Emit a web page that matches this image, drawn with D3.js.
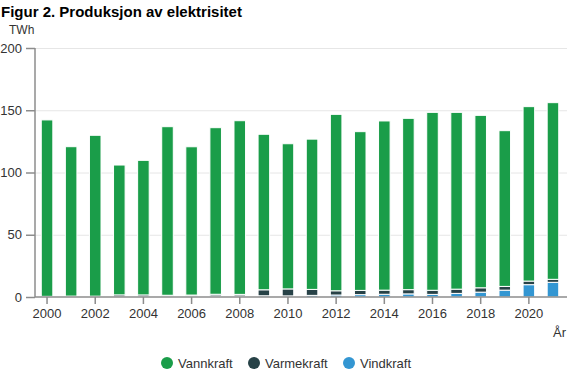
<html>
<head>
<meta charset="utf-8">
<script src="https://d3js.org/d3.v7.min.js"></script>
<style>
  body { margin: 0; background: #fff; }
  text { font-family: "Liberation Sans", Arial, sans-serif; }
</style>
</head>
<body>
<svg width="576" height="384"></svg>
<script>
// data (TWh)
var years = d3.range(2000, 2022);
var vannkraft = [141.7, 120.0, 129.2, 104.3, 108.1, 135.4, 119.1, 133.8, 139.5, 124.9, 116.6,
                 120.7, 141.7, 127.5, 135.9, 137.6, 142.9, 142.0, 138.5, 125.1, 140.1, 141.9];
var varmekraft = [0.5, 0.7, 0.6, 1.5, 1.4, 0.9, 0.9, 1.3, 1.2, 4.8, 5.6,
                  4.8, 3.4, 3.4, 3.3, 3.4, 3.3, 3.4, 3.5, 3.0, 2.9, 2.4];
var vindkraft = [0.03, 0.03, 0.08, 0.2, 0.26, 0.5, 0.67, 0.9, 0.9, 1.0, 0.9,
                 1.3, 1.6, 1.9, 2.2, 2.5, 2.1, 2.9, 3.9, 5.5, 9.9, 11.8];
var yTicks = [0, 50, 100, 150, 200];
var xTicks = [2000, 2002, 2004, 2006, 2008, 2010, 2012, 2014, 2016, 2018, 2020];

var seriesNames = ["Vannkraft", "Varmekraft", "Vindkraft"];
var colors = {Vannkraft: "#1a9d49", Varmekraft: "#274247", Vindkraft: "#3396d2"};

var rows = years.map(function(y, i) {
  return {year: y, Vannkraft: vannkraft[i], Varmekraft: varmekraft[i], Vindkraft: vindkraft[i]};
});

var svg = d3.select("svg");

var x = d3.scaleBand().domain(years).range([35, 565]).paddingInner(0.52).paddingOuter(0.26);
var y = d3.scaleLinear().domain([0, 200]).range([297, 48]);

// title
svg.append("text").attr("x", 1).attr("y", 17)
  .attr("font-size", 15).attr("font-weight", "bold").attr("fill", "#000")
  .text("Figur 2. Produksjon av elektrisitet");
svg.append("text").attr("x", 9).attr("y", 34)
  .attr("font-size", 12).attr("fill", "#333").text("TWh");

// grid
svg.append("g").selectAll("line").data(yTicks.slice(1)).enter().append("line")
  .attr("x1", 35).attr("x2", 567)
  .attr("y1", function(d) { return y(d) + 0.5; }).attr("y2", function(d) { return y(d) + 0.5; })
  .attr("stroke", "#e6e6e6");

// bars: wind at the bottom, then thermal, hydro on top
var stack = d3.stack().keys(["Vindkraft", "Varmekraft", "Vannkraft"]);
svg.append("g").selectAll("g").data(stack(rows)).enter().append("g")
  .attr("fill", function(d) { return colors[d.key]; })
  .selectAll("rect").data(function(d) { return d; }).enter().append("rect")
  .attr("x", function(d) { return x(d.data.year); })
  .attr("width", x.bandwidth())
  .attr("y", function(d) { return y(d[1]); })
  .attr("height", function(d) { return Math.max(0, y(d[0]) - y(d[1])); })
  .attr("stroke", "#fff").attr("stroke-width", 1);

// y axis
var yAxis = d3.axisLeft(y).tickValues(yTicks).tickSize(9).tickPadding(4);
var gy = svg.append("g").attr("transform", "translate(35,0)").call(yAxis);
gy.select(".domain").attr("stroke", "#8c8c8c").attr("stroke-width", 1.5).attr("d", "M0,48V297");
gy.selectAll(".tick line").attr("stroke", "#8c8c8c").attr("stroke-width", 1.5);
gy.selectAll(".tick text").attr("font-size", 13).attr("fill", "#333")
  .attr("font-family", "Liberation Sans, Arial, sans-serif");

// x axis
var xAxis = d3.axisBottom(x).tickValues(xTicks).tickSize(7).tickPadding(5).tickSizeOuter(0);
var gx = svg.append("g").attr("transform", "translate(0,297)").call(xAxis);
gx.select(".domain").attr("stroke", "#8c8c8c").attr("stroke-width", 1.5).attr("d", "M35,0H567");
gx.selectAll(".tick line").attr("stroke", "#8c8c8c").attr("stroke-width", 1.5);
gx.selectAll(".tick text").attr("font-size", 13).attr("fill", "#333")
  .attr("font-family", "Liberation Sans, Arial, sans-serif");

svg.append("text").attr("x", 553).attr("y", 337)
  .attr("font-size", 13).attr("fill", "#333").text("År");

// legend
var legendX = [167, 254, 349];
var lg = svg.append("g").selectAll("g").data(seriesNames).enter().append("g")
  .attr("transform", function(d, i) { return "translate(" + legendX[i] + ",363)"; });
lg.append("circle").attr("r", 6).attr("fill", function(d) { return colors[d]; });
lg.append("text").attr("x", 11).attr("y", 4.5)
  .attr("font-size", 13).attr("fill", "#333").text(function(d) { return d; });
</script>
</body>
</html>
